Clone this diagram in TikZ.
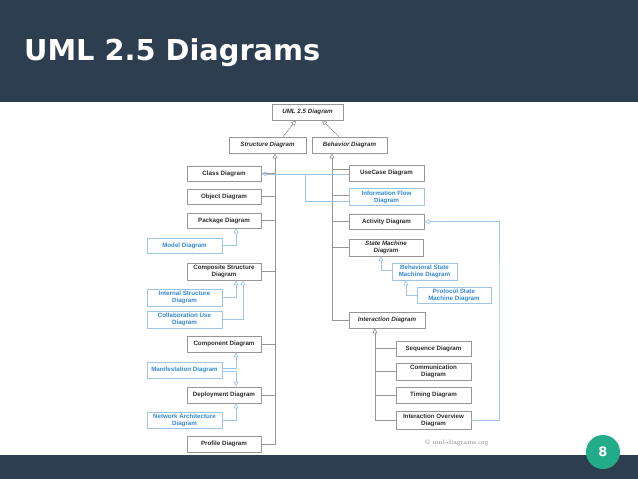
\documentclass[tikz,border=0pt]{standalone}
\usepackage{xcolor}
\usepackage{fontspec}
\usepackage{tikz}
\usetikzlibrary{arrows.meta}
\newfontfamily\titlefont{DejaVu Sans}
\newfontfamily\boxfont{Liberation Sans}
\definecolor{slidebg}{RGB}{45,62,80}
\definecolor{badge}{RGB}{34,172,138}
\definecolor{boxgray}{RGB}{150,150,150}
\definecolor{linegray}{RGB}{150,150,150}
\definecolor{boxtext}{RGB}{45,45,45}
\definecolor{umlblue}{RGB}{52,136,210}
\definecolor{lineblue}{RGB}{160,196,230}

\begin{document}
\begin{tikzpicture}[x=1pt,y=-1pt,
    box/.style={draw=boxgray, fill=white, line width=0.6, inner sep=0,
      minimum width=74, minimum height=16, align=center, text=boxtext,
      font=\boxfont\bfseries\fontsize{6.2}{7}\selectfont},
    abstr/.style={box, font=\boxfont\bfseries\itshape\fontsize{6.2}{7}\selectfont},
    bluebox/.style={box, draw=lineblue, text=umlblue},
    line/.style={draw=linegray, line width=0.6},
    gen/.style={line, -{Triangle[open,length=5pt,width=5pt]}},
    bline/.style={draw=lineblue, line width=0.6},
    bgen/.style={bline, -{Triangle[open,length=5pt,width=5pt]}}]
    \useasboundingbox (0,0) rectangle (638,479);
    \fill[white] (0,0) rectangle (638,479);
    % slide header and footer
    \fill[slidebg] (0,0) rectangle (638,102);
    \fill[slidebg] (0,455) rectangle (638,479);
    \node[anchor=base west, inner sep=0, text=white,
      font=\titlefont\bfseries\fontsize{28.8}{30}\selectfont] (title) at (24,60) {UML 2.5 Diagrams};
    \fill[badge] (603,452) circle (17);
    \node[text=white, font=\titlefont\bfseries\fontsize{13}{14}\selectfont] (page) at (603,452) {8};

    % top of the tree
    \node[abstr, minimum width=71] (uml) at (307.5,112) {UML 2.5 Diagram};
    \node[abstr, minimum width=77] (struct) at (267.5,145) {Structure Diagram};
    \node[abstr, minimum width=75] (behav) at (349.5,145) {Behavior Diagram};
    \draw[gen] ([xshift=15.5]struct.north) -- ([xshift=-11.5]uml.south);
    \draw[gen] ([xshift=-10.5]behav.north) -- ([xshift=14.5]uml.south);

    % structure diagrams
    \node[box, minimum height=15] (class) at (224,173.5) {Class Diagram};
    \node[box, minimum height=15] (object) at (224,196.5) {Object Diagram};
    \node[box, minimum height=15] (package) at (224,220.5) {Package Diagram};
    \node[bluebox, minimum width=75, minimum height=15] (model) at (184.5,245.5) {Model Diagram};
    \node[box, minimum height=17] (composite) at (224,271.5) {Composite Structure\\Diagram};
    \node[bluebox, minimum width=75, minimum height=17] (internal) at (184.5,297.5) {Internal Structure\\Diagram};
    \node[bluebox, minimum width=75, minimum height=17] (collab) at (184.5,319.5) {Collaboration Use\\Diagram};
    \node[box] (component) at (224,344) {Component Diagram};
    \node[bluebox, minimum width=75] (manifest) at (184.5,370) {Manifestation Diagram};
    \node[box] (deploy) at (224,395) {Deployment Diagram};
    \node[bluebox, minimum width=75] (network) at (184.5,420) {Network Architecture\\Diagram};
    \node[box] (profile) at (224,444) {Profile Diagram};

    \coordinate (lsp) at ([xshift=7.5]struct.south);
    \draw[gen] (profile.east) -| (lsp);
    \foreach \n in {class,object,package,composite,component,deploy}
      \draw[line] (\n.east) -- (\n.east -| lsp);
    \draw[bgen] (model.east) -| ([xshift=12]package.south);
    \draw[bgen] (internal.east) -| ([xshift=12]composite.south);
    \draw[bgen] (collab.east) -| ([xshift=19]composite.south);
    \draw[bgen] ([yshift=1.5]manifest.east) -| ([xshift=12]component.south);
    \draw[bgen] ([yshift=-1.5]manifest.east) -| ([xshift=12]deploy.north);
    \draw[bgen] (network.east) -| ([xshift=12]deploy.south);

    % behavior diagrams
    \node[box, minimum width=75] (usecase) at (386.5,173) {UseCase Diagram};
    \node[bluebox, minimum width=75, minimum height=17] (infoflow) at (386.5,197) {Information Flow\\Diagram};
    \node[box, minimum width=75, minimum height=15] (activity) at (386.5,221.5) {Activity Diagram};
    \node[abstr, minimum height=17] (statemach) at (386,247.5) {State Machine\\Diagram};
    \node[bluebox, minimum width=65, minimum height=17] (behavsm) at (424.5,271.5) {Behavioral State\\Machine Diagram};
    \node[bluebox, minimum height=16] (protosm) at (454,295) {Protocol State\\Machine Diagram};
    \node[abstr, minimum width=76] (interaction) at (387,320) {Interaction Diagram};
    \node[box, minimum width=75, minimum height=15] (sequence) at (433.5,348.5) {Sequence Diagram};
    \node[box, minimum width=75, minimum height=17] (commun) at (433.5,371.5) {Communication\\Diagram};
    \node[box, minimum width=75] (timing) at (433.5,395) {Timing Diagram};
    \node[box, minimum width=75, minimum height=18] (overview) at (433.5,420) {Interaction Overview\\Diagram};

    \coordinate (rsp) at ([xshift=-17.5]behav.south);
    \draw[gen] (interaction.west) -| (rsp);
    \draw[line] ([yshift=3.5]usecase.west) -- ([yshift=3.5]usecase.west -| rsp);
    \draw[line] ([yshift=2]infoflow.west) -- ([yshift=2]infoflow.west -| rsp);
    \foreach \n in {activity,statemach}
      \draw[line] (\n.west) -- (\n.west -| rsp);
    \draw[bgen] ([yshift=-1]usecase.west) -- ([yshift=-1]usecase.west -| class.east);
    \coordinate (flowjoin) at (305,174);
    \draw[bline] ([yshift=-4]infoflow.west) -| (flowjoin);
    \draw[bgen] ([yshift=1.5]behavsm.west) -| ([xshift=-5]statemach.south);
    \draw[bgen] (protosm.west) -| ([xshift=-18.5]behavsm.south);
    \coordinate (rbus) at (499,300);
    \draw[bgen] (overview.east) -| (rbus) |- (activity.east);

    \coordinate (isp) at ([xshift=-12]interaction.south);
    \draw[gen] (overview.west) -| (isp);
    \foreach \n in {sequence,commun,timing}
      \draw[line] (\n.west) -- (\n.west -| isp);

    \node[text=gray, font=\fontsize{6.5}{7}\selectfont] (credit) at (457,443) {\textcopyright{} uml-diagrams.org};
\end{tikzpicture}
\end{document}
